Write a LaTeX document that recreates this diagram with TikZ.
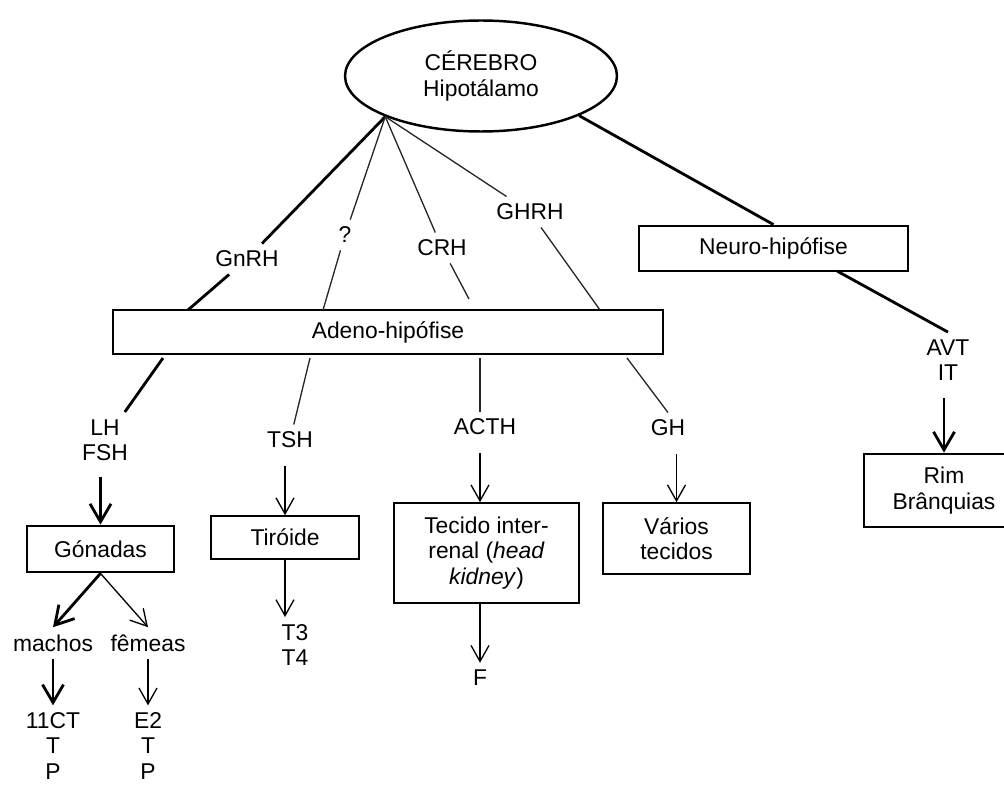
\documentclass[tikz,border=0pt]{standalone}
\usepackage{fontspec}
\setmainfont{Liberation Sans}
\usetikzlibrary{arrows.meta,shapes.geometric}

\begin{document}
\begin{tikzpicture}[
    x=0.02cm, y=-0.02cm,
    font=\fontsize{13}{14.4}\selectfont,
    caixa/.style={rectangle, draw, line width=1.6pt, inner sep=0pt, align=center},
    caixafina/.style={rectangle, draw, line width=0.9pt, inner sep=0pt, align=center},
    rotulo/.style={align=center, inner sep=4pt},
    grossa/.style={line width=1.6pt},
    fina/.style={line width=0.75pt, black!85},
    setagrossa/.style={line width=1.6pt, -{Straight Barb[length=3.6mm, width=4.2mm]}},
    setafina/.style={line width=0.75pt, -{Straight Barb[length=3.2mm, width=3.6mm]}}
]
\useasboundingbox (0,0) rectangle (1004,787);

% Cerebro / Hipotalamo
\node[ellipse, draw, line width=1.4pt, inner sep=0pt, minimum width=5.44cm,
      minimum height=2.22cm, align=center] (cer) at (481,76) {CÉREBRO\\Hipotálamo};
\coordinate (hub) at (cer.203);

% Hormonas de liberacao
\node[rotulo] (gnrh) at (247,259) {GnRH};
\node[rotulo] (interr) at (345,235) {?};
\node[rotulo] (crh) at (442,248) {CRH};
\node[rotulo] (ghrh) at (530,212) {GHRH};

% Hipofise
\node[caixa, minimum width=11cm, minimum height=0.88cm] (adeno) at (388,332) {Adeno-hipófise};
\node[caixa, minimum width=5.38cm, minimum height=0.9cm] (neuro) at (773.5,248.5) {Neuro-hipófise};

% Pontos de ligacao na Adeno-hipofise
\coordinate (adGn) at (188,310);
\coordinate (adQ) at (323,310);
\coordinate (adCrh) at (469,299);
\coordinate (adGhrh) at (600,310);
\coordinate (adLh) at (163,358);
\coordinate (adTsh) at (310,358);
\coordinate (adActh) at (480,358);
\coordinate (adGh) at (627,358);
\coordinate (nhOut) at (837,271);

% Ligacoes do hipotalamo
\draw[grossa] (hub) -- (gnrh);
\draw[grossa] (gnrh) -- (adGn);
\draw[fina] (hub) -- (interr);
\draw[fina] (interr) -- (adQ);
\draw[fina] (hub) -- (crh);
\draw[fina] (crh) -- (adCrh);
\draw[fina] (hub) -- (ghrh);
\draw[fina] (ghrh) -- (adGhrh);
\draw[grossa] (cer.338) -- (neuro.north);

% Hormonas hipofisarias
\node[rotulo] (lhfsh) at (105,440) {LH\\FSH};
\node[rotulo] (tsh) at (290,440) {TSH};
\node[rotulo] (acth) at (485,427) {ACTH};
\node[rotulo] (gh) at (668,428) {GH};
\node[rotulo] (avt) at (948,360) {AVT\\IT};

\draw[grossa] (adLh) -- (lhfsh);
\draw[fina] (adTsh) -- (tsh);
\draw[fina] (adActh) -- (adActh |- acth.north);
\draw[fina] (adGh) -- (gh.north);
\draw[grossa] (nhOut) -- (avt.north);

% Orgaos alvo
\node[caixa, minimum width=2.94cm, minimum height=0.92cm] (gon) at (100.5,549) {Gónadas};
\node[caixafina, minimum width=2.96cm, minimum height=0.86cm] (tir) at (285,537.5) {Tiróide};
\node[caixafina, minimum width=3.7cm, minimum height=2cm] (tec) at (486.5,553)
     {Tecido inter-\\renal (\textit{head}\\\textit{kidney})};
\node[caixafina, minimum width=2.94cm, minimum height=1.42cm] (var) at (676.5,538.5) {Vários\\tecidos};
\node[caixa, minimum width=3.2cm, minimum height=1.46cm] (rim) at (944,490.5) {Rim\\Brânquias};

% Produtos finais
\node[rotulo] (machos) at (53,643) {machos};
\node[rotulo] (femeas) at (148,643) {fêmeas};
\node[rotulo] (hmachos) at (53,746) {11CT\\T\\P};
\node[rotulo] (hfemeas) at (148,746) {E2\\T\\P};
\node[rotulo] (t34) at (295,645) {T3\\T4};
\node[rotulo] (f) at (480,678) {F};

% Setas
\draw[setagrossa, shorten <=5pt] (lhfsh.south -| gon.north) -- (gon.north);
\draw[setagrossa] (gon.south) -- (machos.north);
\draw[setafina] (gon.south) -- (femeas.north);
\draw[setagrossa] (machos.south) -- (hmachos.north);
\draw[setafina] (femeas.south) -- (hfemeas.north);
\draw[setafina, shorten <=6pt] (tsh.south -| tir.north) -- (tir.north);
\draw[setafina] (tir.south) -- (tir.south |- t34.north);
\draw[setafina, shorten <=6pt] (acth.south -| f) -- (tec.north -| f);
\draw[setafina] (tec.south -| f) -- (f.north);
\draw[setafina, shorten <=6pt] (gh.south -| var.north) -- (var.north);
\draw[setagrossa, shorten <=6pt] (avt.south -| rim.north) -- (rim.north);
\end{tikzpicture}
\end{document}
